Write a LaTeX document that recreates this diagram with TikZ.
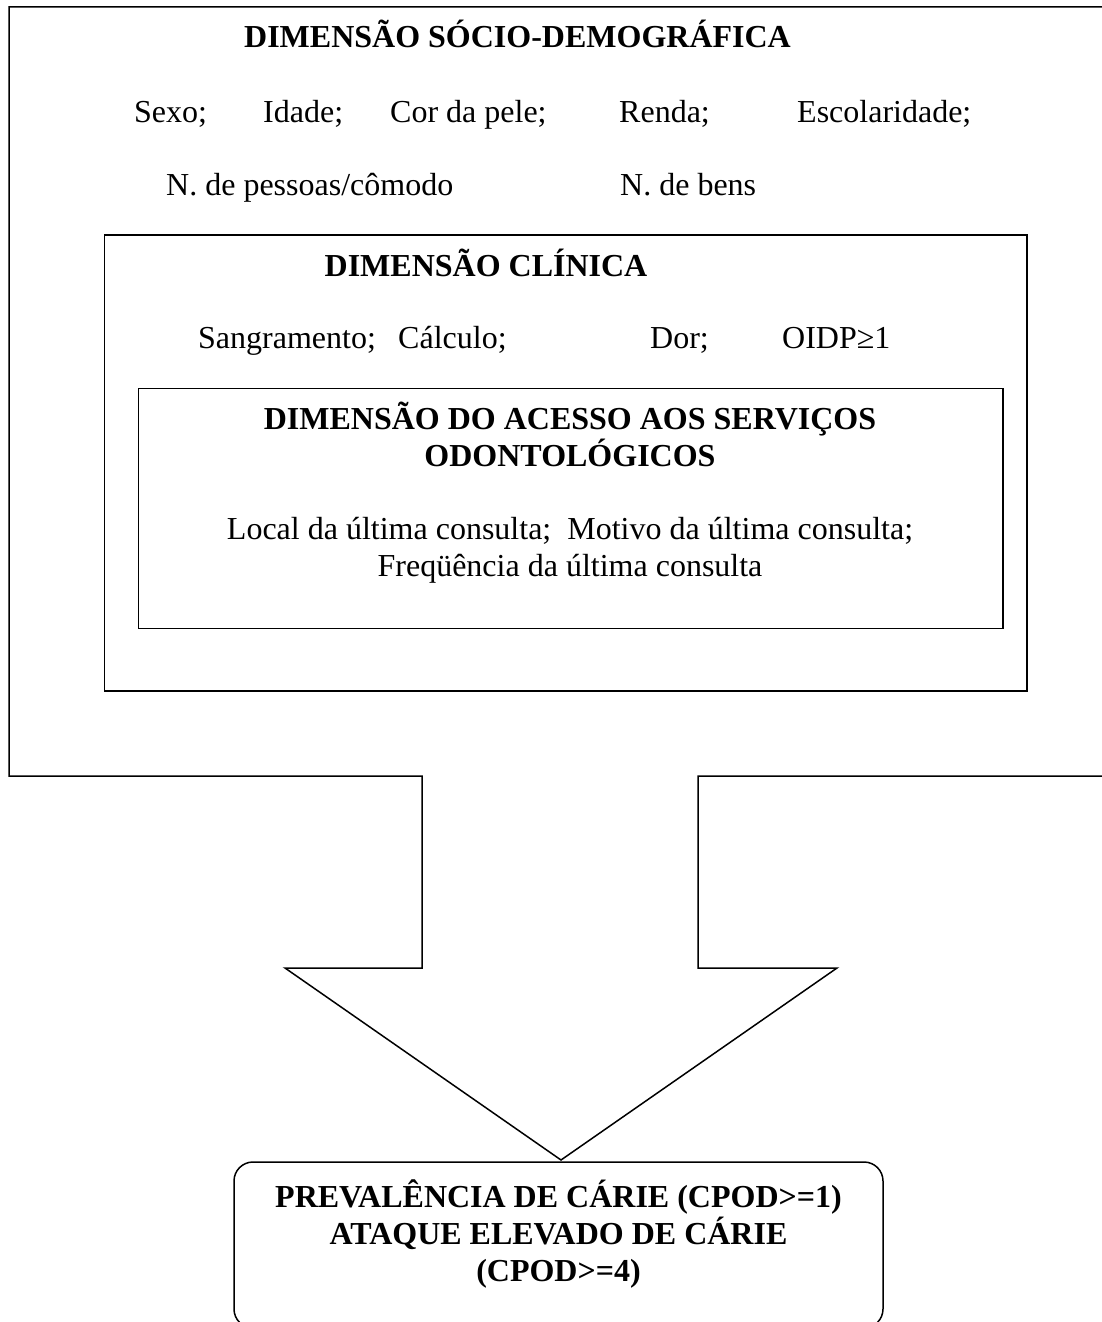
\documentclass[tikz,border=0pt]{standalone}
\usepackage{fontspec}
\setmainfont{Liberation Serif}
\begin{document}
\begin{tikzpicture}[x=1pt,y=-1pt,
  shp/.style={draw=black, line width=1.5pt, line join=miter},
  boxnode/.style={shp, inner sep=0pt, outer sep=0pt, anchor=north west},
  txt/.style={inner sep=0pt, anchor=base west, font=\fontsize{32}{37}\selectfont},
  ttl/.style={inner sep=0pt, anchor=base, font=\fontsize{32}{37}\selectfont\bfseries}]
\useasboundingbox (0,0) rectangle (1102,1322);
\clip (0,0) rectangle (1102,1322);
\fill[white] (0,0) rectangle (1102,1322);

% outer box with the big arrow
\coordinate (tip) at (561,1160);
\draw[shp] (9,7) -- (1115,7) -- (1115,776) -- (698,776) -- (698,968) -- (837,968)
  -- (tip) -- (285,968) -- (422,968) -- (422,776) -- (9,776) -- cycle;

% socio-demographic texts
\node[ttl] (t1) at (517.5,48) {DIMENSÃO SÓCIO-DEMOGRÁFICA};
\node[txt] (sexo) at (134,122) {Sexo;};
\node[txt] (idade) at (263,122) {Idade;};
\node[txt] (cor) at (390,122) {Cor da pele;};
\node[txt] (renda) at (619,122) {Renda;};
\node[txt] (esc) at (797,122) {Escolaridade;};
\node[txt] (pess) at (166,195) {N. de pessoas/cômodo};
\node[txt] (bens) at (620,195) {N. de bens};

% clinical box
\node[boxnode, minimum width=922.5pt, minimum height=456pt] (clin) at (104.5,235) {};
\node[ttl] (t2) at (486,276) {DIMENSÃO CLÍNICA};
\node[txt] (sang) at (198,348) {Sangramento;};
\node[txt] (calc) at (398,348) {Cálculo;};
\node[txt] (dor) at (650,348) {Dor;};
\node[txt] (oidp) at (782,348) {OIDP≥1};

% access box
\node[boxnode, minimum width=864.5pt, minimum height=240pt] (acc) at (138.5,388.5) {};
\node[ttl] (t3a) at (570,429) {DIMENSÃO DO ACESSO AOS SERVIÇOS};
\node[ttl] (t3b) at (570,466) {ODONTOLÓGICOS};
\node[inner sep=0pt, anchor=base, font=\fontsize{32}{37}\selectfont] (l1) at (570,539) {Local da última consulta;\ \ Motivo da última consulta;};
\node[inner sep=0pt, anchor=base, font=\fontsize{32}{37}\selectfont] (l2) at (570,576) {Freqüência da última consulta};

% outcome box
\node[boxnode, rounded corners=19pt, minimum width=649pt, minimum height=166pt] (out) at (234,1162) {};
\node[ttl] (o1) at (558.5,1207) {PREVALÊNCIA DE CÁRIE (CPOD>=1)};
\node[ttl] (o2) at (558.5,1244) {ATAQUE ELEVADO DE CÁRIE};
\node[ttl] (o3) at (558.5,1281) {(CPOD>=4)};
\end{tikzpicture}
\end{document}
